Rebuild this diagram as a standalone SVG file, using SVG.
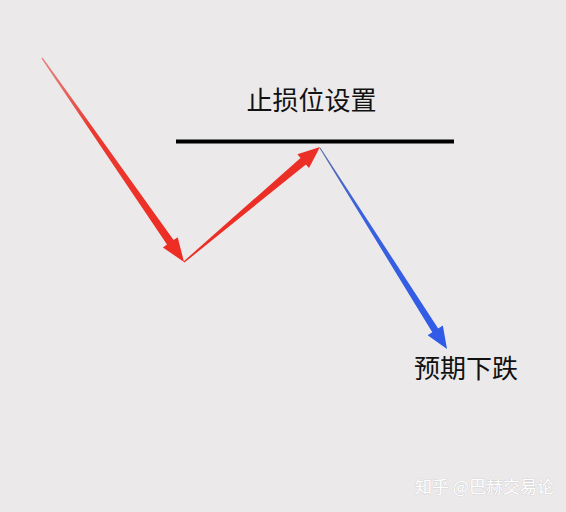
<svg xmlns="http://www.w3.org/2000/svg" width="566" height="512" viewBox="0 0 566 512">
<style>
.lbl{font-family:"Noto Sans CJK SC","Noto Sans",sans-serif;font-size:26px;fill:#111}
.wm{font-family:"Noto Sans CJK SC","Noto Sans",sans-serif;font-size:17px;fill:#ffffff;stroke:#c9c7c8;stroke-width:0.6;paint-order:stroke}
.red{fill:#ec2f26}
</style>
<defs>
<linearGradient id="g1" gradientUnits="userSpaceOnUse" x1="42" y1="58" x2="184" y2="262">
<stop offset="0" stop-color="#e38a82"/>
<stop offset="0.35" stop-color="#ea3a30"/>
<stop offset="1" stop-color="#ee2b22"/>
</linearGradient>
<linearGradient id="g3" gradientUnits="userSpaceOnUse" x1="320" y1="148" x2="447" y2="349">
<stop offset="0" stop-color="#5a6da8"/>
<stop offset="0.3" stop-color="#3a62de"/>
<stop offset="1" stop-color="#2f5ae8"/>
</linearGradient>
</defs>
<rect width="566" height="512" fill="#ebe9ea"/>
<g id="stop-line">
<line x1="176" y1="141.5" x2="454" y2="141.5" stroke="#000" stroke-width="4"/>
</g>
<g id="label-stop"><text class="lbl" x="311.5" y="109.5" text-anchor="middle">止损位设置</text></g>
<g id="label-down"><text class="lbl" x="466" y="377.5" text-anchor="middle">预期下跌</text></g>
<g id="connectors">
<polygon fill="url(#g1)" points="41.43,58.40 167.0,244.6 162.90,247.45 184,262 177.68,237.17 173.6,240.0 42.57,57.60"/>
<polygon class="red" points="184.45,262.53 305.9,164.4 309.01,168.08 320,147 297.39,154.34 300.5,158.0 183.55,261.47"/>
<polygon fill="url(#g3)" points="319.58,148.27 432.3,332.3 427.64,335.21 447,349 442.86,325.59 438.2,328.5 320.42,147.73"/>
</g>
<g id="watermark"><text class="wm" x="415" y="493">知乎 @巴赫交易论</text></g>
</svg>
